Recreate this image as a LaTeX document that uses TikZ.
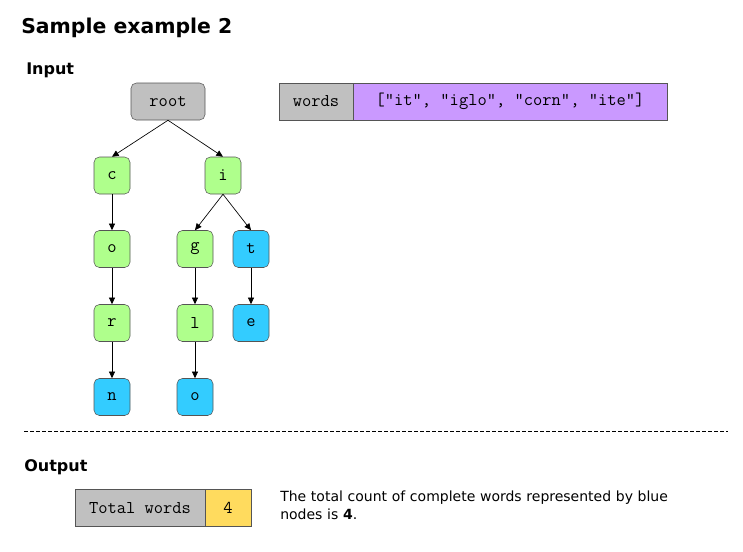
\documentclass[tikz,border=0pt]{standalone}
\usepackage{fontspec}
\setmainfont{DejaVu Sans}
\usetikzlibrary{arrows.meta}
\definecolor{TrGray}{HTML}{C0C0C0}
\definecolor{TrGreen}{HTML}{AFFF8C}
\definecolor{TrBlue}{HTML}{33CCFF}
\definecolor{TrPurple}{HTML}{CA99FF}
\definecolor{TrYellow}{HTML}{FFDB5E}
\definecolor{TrLine}{HTML}{555555}

\begin{document}
\begin{tikzpicture}[x=0.75pt,y=-0.75pt,
  letter/.style={draw=TrLine,rounded corners=4pt,minimum width=27pt,minimum height=27.75pt,inner sep=0pt,font=\ttfamily\fontsize{13.5}{15}\selectfont},
  inner/.style={letter,fill=TrGreen},
  leaf/.style={letter,fill=TrBlue},
  cell/.style={draw=TrLine,minimum height=27.75pt,inner sep=0pt,font=\ttfamily\fontsize{13.5}{15}\selectfont},
  edge/.style={-{Triangle[length=5pt,width=4.5pt]},black,line width=0.5pt},
  heading/.style={anchor=west,inner sep=0pt,font=\bfseries\fontsize{12}{14}\selectfont}]
\path[use as bounding box] (0,0) rectangle (743,551);
\node[anchor=west,inner sep=0pt,font=\bfseries\fontsize{15.3}{18}\selectfont] (title) at (21,28) {Sample example 2};
\node[heading] (input) at (26,70) {Input};
\node[letter,fill=TrGray,minimum width=55.5pt] (root) at (168,101.5) {root};
\node[inner] (c) at (112,175.5) {c};
\node[inner] (i) at (223,175.5) {i};
\node[inner] (o) at (112,249) {o};
\node[inner] (g) at (195,249) {g};
\node[leaf] (t) at (251,249) {t};
\node[inner] (r) at (112,323) {r};
\node[inner] (l) at (195,323) {l};
\node[leaf] (e) at (251,323) {e};
\node[leaf] (n) at (112,397) {n};
\node[leaf] (o2) at (195,397) {o};
\draw[edge] (root.south) -- (c.north);
\draw[edge] (root.south) -- (i.north);
\draw[edge] (c) -- (o);
\draw[edge] (o) -- (r);
\draw[edge] (r) -- (n);
\draw[edge] (i.south) -- (g.north);
\draw[edge] (i.south) -- (t.north);
\draw[edge] (g) -- (l);
\draw[edge] (l) -- (o2);
\draw[edge] (t) -- (e);
\node[cell,fill=TrGray,minimum width=55.5pt] (wkey) at (316,101.5) {words};
\node[cell,fill=TrPurple,minimum width=235.5pt] (wval) at (510,101.5) {["it", "iglo", "corn", "ite"]};
\coordinate (cutl) at (24,431);
\coordinate (cutr) at (728,431);
\draw[black,dash pattern=on 3pt off 1.5pt,line width=0.5pt] (cutl) -- (cutr);
\node[heading] (output) at (24,467) {Output};
\node[cell,fill=TrGray,minimum width=97.5pt] (tkey) at (140,508) {Total words};
\node[cell,fill=TrYellow,minimum width=34.5pt] (tval) at (228,508) {4};
\node[anchor=north west,align=left,inner sep=0pt,text width=320pt,font=\fontsize{10.5}{13.5}\selectfont] (note) at (280,491) {The total count of complete words represented by blue nodes is \textbf{4}.};
\end{tikzpicture}
\end{document}
